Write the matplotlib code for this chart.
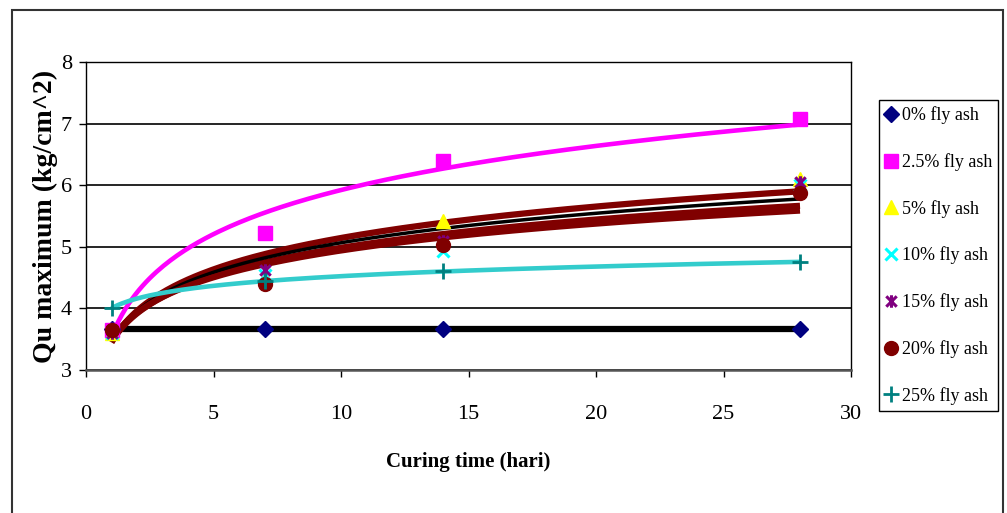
import numpy as np
import matplotlib
matplotlib.use("Agg")
import matplotlib.pyplot as plt
from matplotlib.path import Path
from matplotlib.patches import Rectangle

plt.rcParams["font.family"] = ["Liberation Serif", "DejaVu Serif"]

# -------------------------
# data
# -------------------------
curing_days = [1, 7, 14, 28]

labels = ["0% fly ash", "2.5% fly ash", "5% fly ash", "10% fly ash",
          "15% fly ash", "20% fly ash", "25% fly ash"]

qu_0 = [3.67, 3.67, 3.67, 3.67]
qu_2_5 = [3.65, 5.23, 6.40, 7.07]
qu_5 = [3.60, 4.50, 5.42, 6.10]
qu_10 = [3.60, 4.55, 4.93, 6.00]
qu_15 = [3.60, 4.62, 5.10, 6.05]
qu_20 = [3.65, 4.40, 5.03, 5.87]
qu_25 = [4.00, 4.45, 4.60, 4.75]

series = [qu_0, qu_2_5, qu_5, qu_10, qu_15, qu_20, qu_25]

# -------------------------
# styles
# -------------------------
star = Path([(-1, -1), (1, 1), (-1, 1), (1, -1), (0, -1.2), (0, 1.2)],
            [Path.MOVETO, Path.LINETO, Path.MOVETO, Path.LINETO,
             Path.MOVETO, Path.LINETO])

marker_style = [
    dict(marker="D", color="#000080", ms=8),
    dict(marker="s", color="#FF00FF", ms=10),
    dict(marker="^", color="#FFFF00", ms=10),
    dict(marker="x", color="#00FFFF", ms=9, mew=2.2),
    dict(marker=star, color="#800080", ms=9, mew=2.2),
    dict(marker="o", color="#800000", ms=10),
    dict(marker="+", color="#008080", ms=11, mew=2),
]

# log trendline (Excel style) colours / widths
trend_color = ["black", "#FF00FF", "#800000", "#800000", "black", "#800000", "#33CCCC"]
trend_lw = [4.5, 3.3, 4.5, 4.5, 2.5, 4.5, 3.3]

fig = plt.figure(figsize=(10.07, 5.13), dpi=100)
ax = fig.add_axes([86 / 1007, 1 - 370 / 513, (851 - 86) / 1007, (370 - 62) / 513])

# outer chart border
fig.patches.append(Rectangle((12 / 1007, -0.1), (1003 - 12) / 1007, 1.1 - 10 / 513,
                             transform=fig.transFigure, fill=False,
                             edgecolor="#333333", lw=1.5))

x = np.array(curing_days, dtype=float)
xs = np.linspace(x.min(), x.max(), 200)

# trendlines first
for vals, c, lw in zip(series, trend_color, trend_lw):
    b, a = np.polyfit(np.log(x), np.array(vals), 1)
    ax.plot(xs, a + b * np.log(xs), color=c, lw=lw, zorder=3, solid_capstyle="butt")

# markers on top
handles = []
for vals, lab, st in zip(series, labels, marker_style):
    st = dict(st)
    col = st.pop("color")
    h, = ax.plot(curing_days, vals, linestyle="none", color=col, mfc=col, mec=col,
                 label=lab, zorder=5, **st)
    handles.append(h)

ax.set_xlim(0, 30)
ax.set_ylim(3, 8)
ax.set_xticks(range(0, 31, 5))
ax.set_yticks(range(3, 9))
ax.grid(True, axis="y", color="black", lw=1.2, zorder=1)
ax.tick_params(axis="both", direction="out", length=5, width=1, labelsize=16)
ax.tick_params(axis="x", pad=20)
ax.tick_params(axis="y", pad=5)
for s in ax.spines.values():
    s.set_color("black")
    s.set_linewidth(1)
ax.spines["bottom"].set_color("#555555")
ax.spines["bottom"].set_linewidth(1.8)

ax.set_xlabel("Curing time (hari)", fontsize=15, fontweight="bold", labelpad=20)
ax.set_ylabel("Qu maximum (kg/cm^2)", fontsize=20, fontweight="bold", labelpad=2)

leg = fig.legend(handles=handles, loc="upper left",
                 bbox_to_anchor=(879 / 1007, 1 - 100 / 513),
                 bbox_transform=fig.transFigure, fontsize=13,
                 frameon=True, fancybox=False, framealpha=1, edgecolor="black",
                 handlelength=0.6, handletextpad=0.3, borderpad=0.35,
                 labelspacing=1.6, borderaxespad=0, markerscale=1.0)
leg.get_frame().set_linewidth(1)

fig.savefig("out.png", dpi=100)
